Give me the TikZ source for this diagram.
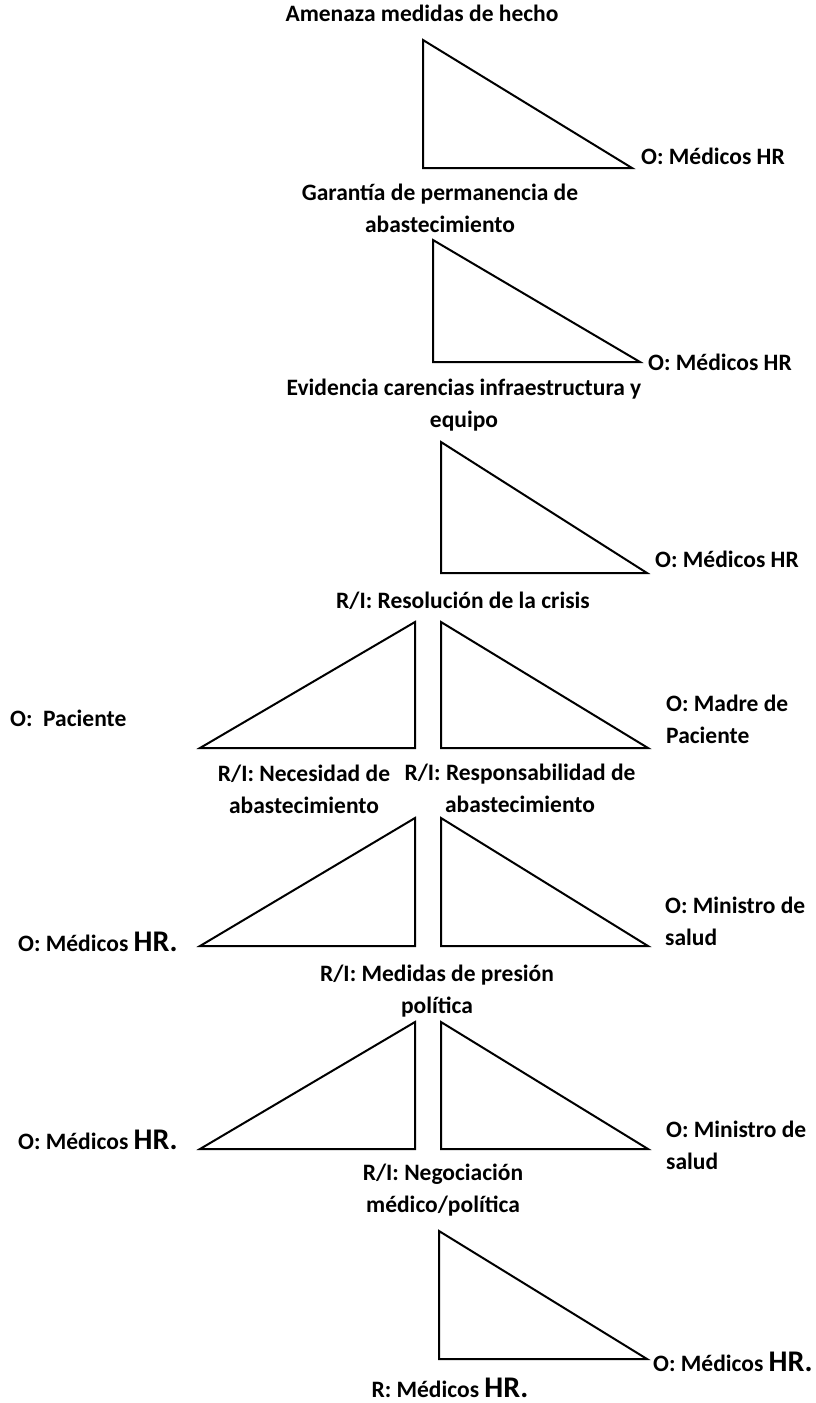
\documentclass[tikz,border=0pt]{standalone}
\usepackage{fontspec}
\setmainfont{Carlito}
\usepackage{tikz}

\tikzset{
  lbl/.style={font=\bfseries\fontsize{23.5}{32}\selectfont, inner sep=0pt},
  tri/.style={line width=2pt, black, line join=miter}
}
\newcommand{\bigHR}{{\fontsize{30}{32}\selectfont HR.}}

\begin{document}
\begin{tikzpicture}[x=1pt, y=-1pt]
    \useasboundingbox (0,0) rectangle (815,1403);

    \node[lbl] (amenaza) at (422, 13) {Amenaza medidas de hecho};
    \draw[tri] (423,40) -- (423,168) -- (632,168) -- cycle;
    \node[lbl, anchor=west] (obsA) at (641, 156) {O: Médicos HR};

    \node[lbl, align=center] (garantia) at (440, 208) {Garantía de permanencia de\\abastecimiento};
    \draw[tri] (433,240) -- (433,362) -- (640,362) -- cycle;
    \node[lbl, anchor=west] (obsB) at (648, 362) {O: Médicos HR};

    \node[lbl, align=center] (evidencia) at (464, 405) {Evidencia carencias infraestructura y\\equipo};
    \draw[tri] (441,442) -- (441,573) -- (647,573) -- cycle;
    \node[lbl, anchor=west] (obsC) at (655, 559) {O: Médicos HR};

    \node[lbl] (resolucion) at (463, 601) {R/I: Resolución de la crisis};

    % pares de triangulos
    \foreach \top/\bot in {622/748, 818/946, 1022/1149} {
      \draw[tri] (415,\top) -- (415,\bot) -- (200,\bot) -- cycle;
      \draw[tri] (441,\top) -- (441,\bot) -- (648,\bot) -- cycle;
    }

    \node[lbl, anchor=west] (paciente) at (10, 718) {O:\ \ Paciente};
    \node[lbl, anchor=west, align=left] (madre) at (666, 719) {O: Madre de\\Paciente};

    \node[lbl, align=center] (necesidad) at (304, 789) {R/I: Necesidad de\\abastecimiento};
    \node[lbl, align=center] (responsab) at (520, 788) {R/I: Responsabilidad de\\abastecimiento};

    \node[lbl, anchor=west] (medicosA) at (18, 942) {O: Médicos \bigHR};
    \node[lbl, anchor=west, align=left] (ministroA) at (665, 921) {O: Ministro de\\salud};

    \node[lbl, align=center] (presion) at (437, 991) {R/I: Medidas de presión\\política};

    \node[lbl, anchor=west] (medicosB) at (18, 1140) {O: Médicos \bigHR};
    \node[lbl, anchor=west, align=left] (ministroB) at (666, 1145) {O: Ministro de\\salud};

    \node[lbl, align=center] (negociacion) at (443, 1190) {R/I: Negociación\\médico/política};
    \draw[tri] (439,1231) -- (439,1359) -- (647,1359) -- cycle;
    \node[lbl, anchor=west] (medicosC) at (653, 1362) {O: Médicos \bigHR};

    \node[lbl] (resultado) at (450, 1388) {R: Médicos \bigHR};
\end{tikzpicture}
\end{document}
